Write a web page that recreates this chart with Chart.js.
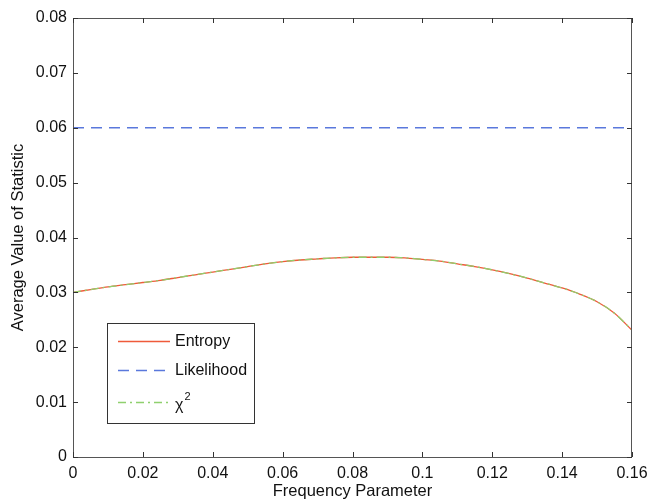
<!DOCTYPE html>
<html>
<head>
<meta charset="utf-8">
<script src="https://cdn.jsdelivr.net/npm/chart.js@4/dist/chart.umd.min.js"></script>
<style>
html,body{margin:0;padding:0;background:#fff;}
#wrap{width:650px;height:501px;}
</style>
</head>
<body>
<div id="wrap"><canvas id="chart" width="650" height="501"></canvas></div>
<script>
// values
let freq=[0,0.005,0.01,0.015,0.02,0.025,0.03,0.035,0.04,0.045,0.05,0.055,0.06,0.065,0.07,0.075,0.08,0.085,0.09,0.095,0.1,0.105,0.11,0.115,0.12,0.125,0.13,0.135,0.14,0.145,0.15,0.155,0.16];
let entropy=[0.0300,0.0305,0.0310,0.0314,0.0318,0.0322,0.0327,0.0332,0.0337,0.0342,0.0347,0.0352,0.0356,0.0359,0.0361,0.0363,0.0364,0.0364,0.0364,0.0363,0.0360,0.0357,0.0352,0.0347,0.0341,0.0334,0.0326,0.0317,0.0308,0.0297,0.0283,0.0262,0.0231];
let chi2=entropy.slice();
let likelihood=[0.06,0.06];
let likelihoodX=[0,0.16];
let seriesNames=["Entropy","Likelihood","χ"];

let FONT="'Liberation Sans', Arial, sans-serif";

function pts(xs,ys){
let out=[];
for(let i=0;i<xs.length;i++){ out.push({x:xs[i],y:ys[i]}); }
return out;
}

/* inward ticks, frame and legend box */
let framePlugin={
id:"frame",
afterDraw(chart){
let ctx=chart.ctx;
let a=chart.chartArea;
let xs=chart.scales.x, ys=chart.scales.y;
ctx.save();
ctx.strokeStyle="#555";
ctx.lineWidth=1;
ctx.strokeRect(a.left+0.5,a.top+0.5,a.right-a.left-1,a.bottom-a.top);
ctx.strokeStyle="#333";
ctx.beginPath();
xs.ticks.forEach(function(t){
let px=Math.round(xs.getPixelForValue(t.value))+0.5;
ctx.moveTo(px,a.bottom); ctx.lineTo(px,a.bottom-5);
ctx.moveTo(px,a.top); ctx.lineTo(px,a.top+5);
});
ys.ticks.forEach(function(t){
let py=Math.round(ys.getPixelForValue(t.value))+0.5;
ctx.moveTo(a.left,py); ctx.lineTo(a.left+5,py);
ctx.moveTo(a.right,py); ctx.lineTo(a.right-5,py);
});
ctx.stroke();

/* legend */
let bx=a.left+34, by=a.bottom-134, bw=147, bh=100;
ctx.fillStyle="#fff";
ctx.fillRect(bx,by,bw,bh);
ctx.strokeStyle="#333";
ctx.strokeRect(bx+0.5,by+0.5,bw,bh);
let rows=[by+18,by+47,by+79];
chart.data.datasets.forEach(function(ds,i){
let y=rows[i]+0.5;
ctx.strokeStyle=ds.borderColor;
ctx.lineWidth=1.3;
ctx.setLineDash(ds.borderDash||[]);
ctx.beginPath();
ctx.moveTo(bx+11,y); ctx.lineTo(bx+63,y);
ctx.stroke();
ctx.setLineDash([]);
ctx.fillStyle="#111";
ctx.font="16px "+FONT;
ctx.textBaseline="middle";
ctx.textAlign="left";
if(i==2){
ctx.fillText(seriesNames[i],bx+68,y+3);
let w=ctx.measureText(seriesNames[i]).width;
ctx.font="11px "+FONT;
ctx.fillText("2",bx+68+w+1,y-6);
}
else{
ctx.fillText(seriesNames[i],bx+68,y);
}
});
ctx.restore();
}
};

new Chart(document.getElementById("chart"),{
type:"line",
data:{
datasets:[
{label:"Entropy",data:pts(freq,entropy),borderColor:"#ef5a3a",borderWidth:1.3,pointRadius:0,fill:false,cubicInterpolationMode:"monotone",order:2},
{label:"Likelihood",data:pts(likelihoodX,likelihood),borderColor:"#5a78dc",borderWidth:1.3,borderDash:[11,7],pointRadius:0,fill:false,order:1},
{label:"χ2",data:pts(freq,chi2),borderColor:"#8fd06e",borderWidth:1.3,borderDash:[8,4,2,4],pointRadius:0,fill:false,cubicInterpolationMode:"monotone",order:0}
]
},
options:{
responsive:false,
animation:false,
layout:{padding:{left:0,right:18,top:18,bottom:0}},
plugins:{legend:{display:false},tooltip:{enabled:false}},
scales:{
x:{
type:"linear",min:0,max:0.16,
border:{display:false},
grid:{display:false,drawTicks:false},
ticks:{stepSize:0.02,padding:7,color:"#111",font:{family:FONT,size:16},
callback:function(v){return +v.toFixed(2);}},
title:{display:true,text:"Frequency Parameter",color:"#111",font:{family:FONT,size:16.5},padding:{top:1,bottom:0}},
afterFit:function(s){s.height=44;s.paddingLeft=0;s.paddingRight=0;}
},
y:{
min:0,max:0.08,
border:{display:false},
grid:{display:false,drawTicks:false},
ticks:{stepSize:0.01,padding:6,color:"#111",font:{family:FONT,size:16},
callback:function(v){return +v.toFixed(2);}},
title:{display:true,text:"Average Value of Statistic",color:"#111",font:{family:FONT,size:16.5},padding:{top:9,bottom:0}},
afterFit:function(s){s.width=73;}
}
}
},
plugins:[framePlugin]
});
</script>
</body>
</html>
